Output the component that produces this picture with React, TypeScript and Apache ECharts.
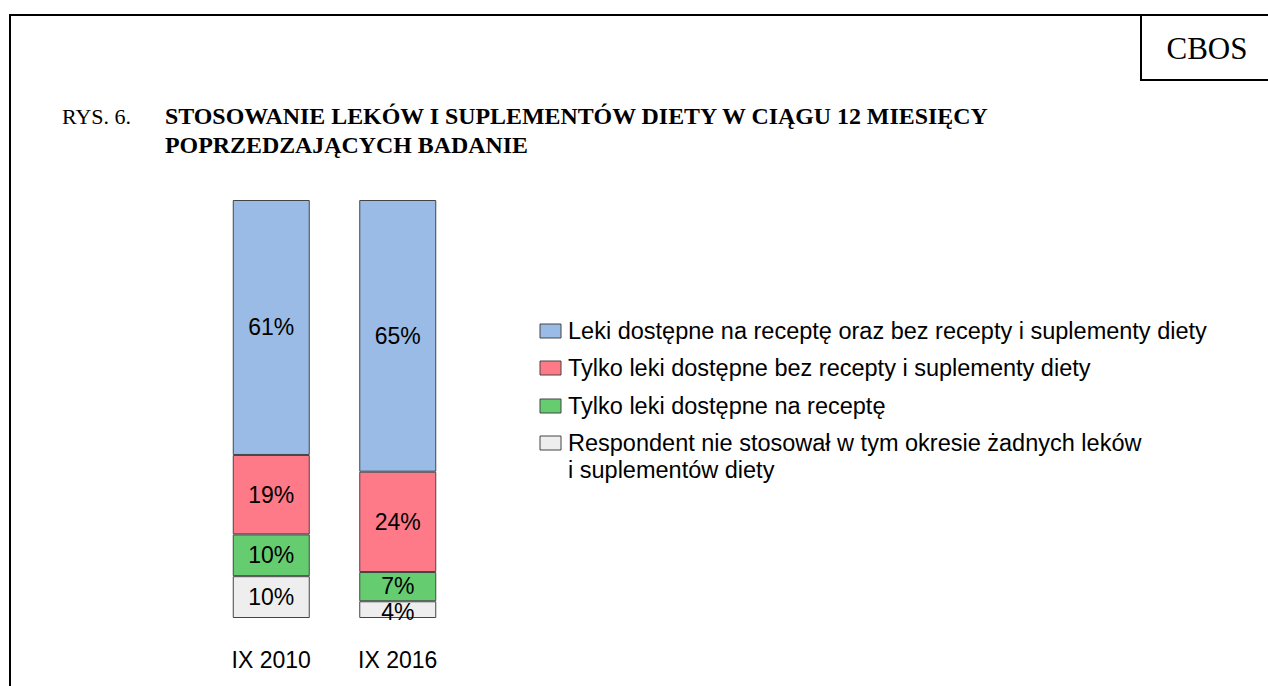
import React, { useEffect, useRef } from "react";
import * as echarts from "echarts";

const categories = ["IX 2010", "IX 2016"];
const seriesNames = [
  "Leki dostępne na receptę oraz bez recepty i suplementy diety",
  "Tylko leki dostępne bez recepty i suplementy diety",
  "Tylko leki dostępne na receptę",
  "Respondent nie stosował w tym okresie żadnych leków\ni suplementów diety",
];
const bothValues = [61, 65];
const otcOnly = [19, 24];
const rxOnly = [10, 7];
const none = [10, 4];
const colors = ["#99BBE5", "#FF7A88", "#66CC70", "#EEEEEE"];

export default function App() {
  const ref = useRef<HTMLDivElement>(null);
  useEffect(() => {
    const chart = echarts.init(ref.current!, null, { renderer: "svg" });
    const values = [bothValues, otcOnly, rxOnly, none];
    // stack from bottom: none, rxOnly, otcOnly, both
    const order = [3, 2, 1, 0];
    const series = order.map((i) => ({
      name: seriesNames[i],
      type: "bar",
      stack: "total",
      barWidth: 77,
      data: values[i].map((v, j) => {
        // nudge the two small 2016 labels apart as in the original
        if (j === 1 && i === 3) return { value: v, label: { offset: [0, 2] } };
        if (j === 1 && i === 2) return { value: v, label: { offset: [0, -1] } };
        return v;
      }),
      itemStyle: { color: colors[i], borderColor: "#444444", borderWidth: 1 },
      label: {
        show: true,
        position: "inside",
        formatter: "{c}%",
        color: "#000",
        fontFamily: "Liberation Sans, Arial",
        fontSize: 23,
      },
    }));
    const legendX = 540;
    const legendRows = [331, 368, 406, 443];
    const legendGraphics: any[] = [];
    seriesNames.forEach((n, i) => {
      legendGraphics.push({
        type: "rect",
        shape: { x: legendX, y: legendRows[i] - 7, width: 21, height: 14 },
        style: { fill: colors[i], stroke: "#444444", lineWidth: 1 },
      });
      const lines = n.split("\n");
      lines.forEach((ln, k) => {
        legendGraphics.push({
          type: "text",
          x: 568,
          y: legendRows[i] + k * 27,
          style: {
            text: ln,
            fill: "#000",
            fontFamily: "Liberation Sans, Arial",
            fontSize: 23.5,
            verticalAlign: "middle",
          },
        });
      });
    });
    chart.setOption({
      animation: false,
      grid: { left: 208, top: 200, width: 253, height: 418 },
      xAxis: {
        type: "category",
        data: categories,
        axisLine: { show: false },
        axisTick: { show: false },
        axisLabel: {
          color: "#000",
          fontFamily: "Liberation Sans, Arial",
          fontSize: 23,
          margin: 30,
        },
      },
      yAxis: { type: "value", min: 0, max: 100, show: false },
      series,
      graphic: [
        {
          type: "polyline",
          shape: { points: [[10, 686], [10, 15], [1268, 15]] },
          style: { stroke: "#000", lineWidth: 2, fill: null },
        },
        {
          type: "polyline",
          shape: { points: [[1141, 15], [1141, 80], [1268, 80]] },
          style: { stroke: "#000", lineWidth: 2, fill: null },
        },
        {
          type: "text",
          x: 1207,
          y: 48,
          style: {
            text: "CBOS",
            fill: "#000",
            fontFamily: "Liberation Serif, Times New Roman",
            fontSize: 31,
            align: "center",
            verticalAlign: "middle",
          },
        },
        {
          type: "text",
          x: 62,
          y: 116,
          style: {
            text: "RYS. 6.",
            fill: "#000",
            fontFamily: "Liberation Serif, Times New Roman",
            fontSize: 22,
            verticalAlign: "middle",
          },
        },
        {
          type: "text",
          x: 165,
          y: 116,
          style: {
            text: "STOSOWANIE LEKÓW I SUPLEMENTÓW DIETY W CIĄGU 12 MIESIĘCY",
            fill: "#000",
            fontFamily: "Liberation Serif, Times New Roman",
            fontWeight: "bold",
            fontSize: 23.9,
            verticalAlign: "middle",
          },
        },
        {
          type: "text",
          x: 165,
          y: 145,
          style: {
            text: "POPRZEDZAJĄCYCH BADANIE",
            fill: "#000",
            fontFamily: "Liberation Serif, Times New Roman",
            fontWeight: "bold",
            fontSize: 23.9,
            verticalAlign: "middle",
          },
        },
        ...legendGraphics,
      ],
    });
    return () => chart.dispose();
  }, []);
  return (
    <div
      ref={ref}
      style={{ position: "fixed", left: 0, top: 0, width: 1268, height: 686, background: "#fff" }}
    />
  );
}
